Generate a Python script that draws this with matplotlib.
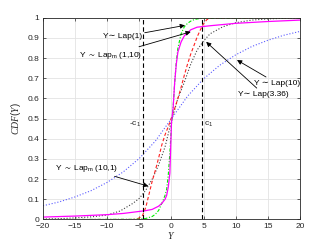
import numpy as np
import matplotlib
matplotlib.use("Agg")
import matplotlib.pyplot as plt

plt.rcParams['font.family'] = ['Liberation Sans', 'DejaVu Sans']
plt.rcParams['mathtext.fontset'] = 'custom'
plt.rcParams['mathtext.rm'] = 'Liberation Sans'
plt.rcParams['mathtext.it'] = 'Liberation Serif:italic'
plt.rcParams['mathtext.fallback'] = 'stixsans'

# %% values

# Y ~ Lap(1)  (green dash-dot)
x_lap1 = [-20, -6, -5, -4, -3, -2.5, -2, -1.5, -1, -0.75, -0.5, -0.25, 0, 0.25, 0.5, 0.75, 1, 1.5, 2, 2.5, 3, 3.5, 4, 5, 20]
y_lap1 = [0, 0.001, 0.002, 0.005, 0.015, 0.026, 0.045, 0.08, 0.12, 0.15, 0.22, 0.33, 0.47, 0.55, 0.68, 0.78, 0.85, 0.92, 0.955, 0.972, 0.983, 0.99, 0.994, 0.998, 1.0]

# Y ~ Lap_m(1,10)  (magenta solid)
x_lapm_1_10 = [-20, -15, -10, -7.5, -5, -4, -3, -2, -1.5, -1, -0.75, -0.5, -0.25, 0, 0.25, 0.5, 0.75, 1, 1.5, 2, 3, 4, 6, 8, 10, 15, 20]
y_lapm_1_10 = [0.012, 0.017, 0.024, 0.03, 0.04, 0.044, 0.05, 0.066, 0.08, 0.10, 0.12, 0.16, 0.23, 0.48, 0.55, 0.68, 0.77, 0.83, 0.88, 0.91, 0.94, 0.953, 0.96, 0.966, 0.972, 0.981, 0.988]

# Y ~ Lap_m(10,1)  (red dashed)
x_lapm_10_1 = [-20, -6, -5.5, -5, -4.5, -4, -3.5, -3, -2.5, -2, -1.5, -1, -0.5, 0, 0.5, 1, 1.5, 2, 2.5, 3, 3.5, 4, 4.5, 5, 5.5, 6, 20]
y_lapm_10_1 = [0, 0, 0.002, 0.008, 0.02, 0.06, 0.125, 0.19, 0.245, 0.305, 0.37, 0.42, 0.46, 0.505, 0.55, 0.60, 0.655, 0.715, 0.77, 0.82, 0.862, 0.905, 0.94, 0.97, 0.99, 0.998, 1.0]

# Y ~ Lap(3.36)  (black dotted)
x_lap336 = [-20, -17.5, -15, -12.5, -10, -8, -6, -5, -4, -3, -2, -1, 0, 1, 2, 3, 4, 5, 6, 8, 10, 12.5, 15, 17.5, 20]
y_lap336 = [0.002, 0.004, 0.008, 0.013, 0.022, 0.042, 0.08, 0.105, 0.145, 0.2, 0.27, 0.36, 0.49, 0.6, 0.68, 0.77, 0.84, 0.885, 0.92, 0.955, 0.975, 0.988, 0.994, 0.997, 0.999]

# Y ~ Lap(10)  (blue dotted)
x_lap10 = [-20, -17.5, -15, -12.5, -10, -7.5, -5, -2.5, 0, 2.5, 5, 7.5, 10, 12.5, 15, 17.5, 20]
y_lap10 = [0.068, 0.087, 0.112, 0.143, 0.184, 0.236, 0.303, 0.389, 0.5, 0.611, 0.697, 0.764, 0.816, 0.857, 0.888, 0.913, 0.932]

# thresholds -c1 / c1
c_left = -4.5
c_right = 4.7

x_ticks = [-20, -15, -10, -5, 0, 5, 10, 15, 20]
y_ticks = [0, 0.1, 0.2, 0.3, 0.4, 0.5, 0.6, 0.7, 0.8, 0.9, 1]

# %% plot

fig = plt.figure(figsize=(3.32, 2.49), dpi=100)
ax = fig.add_axes([0.1295, 0.1185, 0.774, 0.8105])

ax.plot(x_lap10, y_lap10, ':', color='#5a5aff', lw=0.8)
ax.plot(x_lap336, y_lap336, ':', color='#404040', lw=0.8)
ax.plot(x_lapm_10_1, y_lapm_10_1, '--', color='#ff2020', lw=0.8, dashes=(3, 2))
ax.plot(x_lap1, y_lap1, '-.', color='#00ee00', lw=0.8, dashes=(3, 1.5, 1, 1.5))
ax.plot(x_lapm_1_10, y_lapm_1_10, '-', color='#ff00ff', lw=0.9)

ax.axvline(c_left, color='k', ls='--', lw=0.8, dashes=(4, 2.5))
ax.axvline(c_right, color='k', ls='--', lw=0.8, dashes=(4, 2.5))

ax.set_xlim(-20, 20)
ax.set_ylim(0, 1)
ax.set_xticks(x_ticks)
ax.set_yticks(y_ticks)
ax.set_yticklabels(['0'] + ['%.1f' % v for v in y_ticks[1:-1]] + ['1'])
ax.grid(True, color='#e3e3e3', lw=0.6)
ax.set_axisbelow(True)
ax.tick_params(direction='in', length=2.5, width=0.5, labelsize=6,
               colors='#262626', top=True, right=True, pad=2.5)
for s in ax.spines.values():
    s.set_color('#262626')
    s.set_linewidth(0.6)

ax.set_xlabel('$Y$', fontsize=7, labelpad=0, color='#262626')
ax.set_ylabel('$CDF(Y)$', fontsize=7, labelpad=3, color='#262626')

ax.text(c_left - 0.3, 0.45, '-c$_1$', fontsize=6, ha='right', va='bottom', color='#262626')
ax.text(c_right + 0.3, 0.45, 'c$_1$', fontsize=6, ha='left', va='bottom', color='#262626')

aprops = dict(arrowstyle='-|>', color='k', lw=0.6, mutation_scale=7, shrinkA=0, shrinkB=0)
fs = 6
ax.annotate('Y\u223c Lap(1)', xy=(2.1, 0.962), xytext=(-4.6, 0.905),
            fontsize=fs, ha='right', va='center', arrowprops=aprops)
ax.annotate('Y $\\sim$ Lap$_{\\mathrm{m}}$ (1,10)', xy=(3.0, 0.93), xytext=(-4.6, 0.815),
            fontsize=fs, ha='right', va='center', arrowprops=aprops)
ax.annotate('Y \u223c Lap(10)', xy=(10.2, 0.79), xytext=(12.8, 0.675),
            fontsize=fs, ha='left', va='center', arrowprops=aprops)
ax.annotate('Y\u223c Lap(3.36)', xy=(5.4, 0.88), xytext=(10.4, 0.62),
            fontsize=fs, ha='left', va='center', arrowprops=aprops)
ax.annotate('Y $\\sim$ Lap$_{\\mathrm{m}}$ (10,1)', xy=(-3.6, 0.165), xytext=(-18.2, 0.255),
            fontsize=fs, ha='left', va='center', arrowprops=aprops)

plt.savefig('out.png', dpi=100)
